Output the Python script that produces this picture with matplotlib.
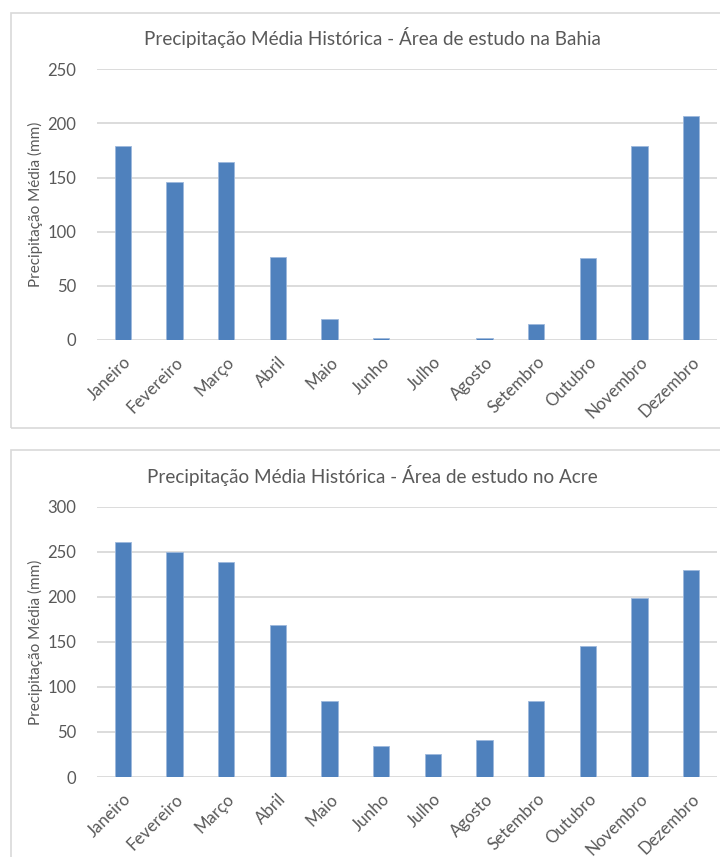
import matplotlib
matplotlib.use("Agg")
import matplotlib.pyplot as plt
from matplotlib.patches import Rectangle

months = ["Janeiro", "Fevereiro", "Março", "Abril", "Maio", "Junho",
          "Julho", "Agosto", "Setembro", "Outubro", "Novembro", "Dezembro"]
bahia_mm = [179, 146, 164, 77, 19, 2, 0, 1.5, 15, 76, 179, 207]
acre_mm = [261, 250, 239, 169, 84, 34, 25, 41, 84, 145, 199, 230]

title_bahia = "Precipitação Média Histórica - Área de estudo na Bahia"
title_acre = "Precipitação Média Histórica - Área de estudo no Acre"
ylabel = "Precipitação Média (mm)"
bahia_yticks = [0, 50, 100, 150, 200, 250]
acre_yticks = [0, 50, 100, 150, 200, 250, 300]

TEXT = "#595959"
GRID = "#d9d9d9"
BAR = "#4f81bd"
FONT = "Lato"

plt.rcParams["font.family"] = [FONT, "DejaVu Sans"]

W, H = 720, 857
fig = plt.figure(figsize=(W / 100, H / 100), dpi=100)


def fx(px):
    return px / W


def fy(py):
    return 1 - py / H


def panel(top_px, bottom_px, frame_top, frame_bottom, title, title_y, values, yticks):
    # chart-area frame
    fig.patches.append(Rectangle((fx(10.7), fy(frame_bottom)), fx(760),
                                 fy(frame_top) - fy(frame_bottom),
                                 transform=fig.transFigure, fill=False,
                                 edgecolor=GRID, linewidth=1.2))
    ax = fig.add_axes([fx(97), fy(bottom_px), fx(620), fy(top_px) - fy(bottom_px)])
    x = range(len(months))
    ax.bar(x, values, width=0.31, color=BAR, edgecolor="#9db8dc",
           linewidth=0.6, zorder=3)
    ax.set_xlim(-0.5, len(months) - 0.5)
    ax.set_ylim(yticks[0], yticks[-1])
    ax.set_yticks(yticks)
    ax.set_yticklabels([str(t) for t in yticks])
    ax.set_xticks(list(x))
    ax.set_xticklabels(months, rotation=45, ha="right", rotation_mode="anchor")
    ax.grid(axis="y", color=GRID, linewidth=1.3, zorder=0)
    ax.set_axisbelow(True)
    for s in ax.spines.values():
        s.set_visible(False)
    ax.tick_params(axis="both", length=0, colors=TEXT)
    ax.tick_params(axis="y", pad=15, labelsize=12)
    ax.tick_params(axis="x", pad=10, labelsize=12.2)
    ax.set_ylabel(ylabel, color=TEXT, fontsize=11)
    ax.yaxis.set_label_coords(-0.087, 0.5)
    fig.text(fx(372), fy(title_y), title, ha="center", va="center",
             color=TEXT, fontsize=13.6)
    return ax


panel(69.3, 340, 12.7, 428, title_bahia, 37, bahia_mm, bahia_yticks)
panel(506.7, 777, 450, 900, title_acre, 475, acre_mm, acre_yticks)

fig.savefig("out.png", dpi=100, facecolor="white")
